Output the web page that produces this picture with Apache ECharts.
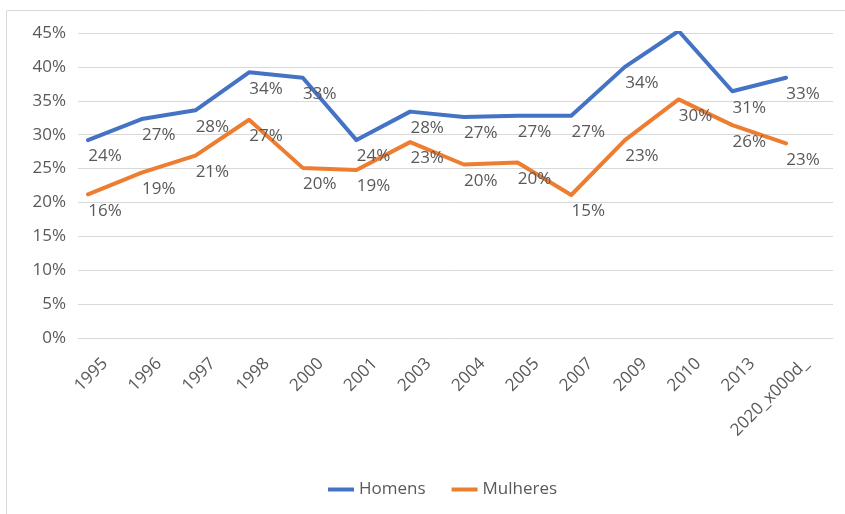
<!DOCTYPE html>
<html>
<head>
<meta charset="utf-8">
<script src="https://cdn.jsdelivr.net/npm/echarts@6/dist/echarts.min.js"></script>
<style>
  html, body { margin: 0; padding: 0; background: #ffffff; }
  #chart { width: 845px; height: 514px; }
</style>
</head>
<body>
<div id="chart"></div>
<script>
// Years on the category axis
const years = ['1995', '1996', '1997', '1998', '2000', '2001', '2003', '2004', '2005', '2007', '2009', '2010', '2013', '2020_x000d_'];

// Line values (fractions)
const homens   = [0.292, 0.323, 0.336, 0.392, 0.384, 0.292, 0.334, 0.326, 0.328, 0.328, 0.400, 0.453, 0.364, 0.384];
const mulheres = [0.212, 0.244, 0.269, 0.322, 0.251, 0.248, 0.289, 0.256, 0.259, 0.211, 0.292, 0.352, 0.314, 0.287];

// Data label texts printed beside each point
const homensLabels   = ['24%', '27%', '28%', '34%', '33%', '24%', '28%', '27%', '27%', '27%', '34%', '40%', '31%', '33%'];
const mulheresLabels = ['16%', '19%', '21%', '27%', '20%', '19%', '23%', '20%', '20%', '15%', '23%', '30%', '26%', '23%'];

// Value axis ticks
const yTicks = [0, 0.05, 0.10, 0.15, 0.20, 0.25, 0.30, 0.35, 0.40, 0.45];

const FONT = '"Open Sans", "Noto Sans", sans-serif';
const TXT = '#595959';
const BLUE = '#4472C4';
const ORANGE = '#ED7D31';

const chart = echarts.init(document.getElementById('chart'), null, { renderer: 'canvas' });

function lineSeries(name, values, labels, color) {
  return {
    name: name,
    type: 'line',
    xAxisIndex: 1,
    yAxisIndex: 1,
    data: values,
    symbol: 'circle',
    symbolSize: 2,
    showSymbol: true,
    itemStyle: { color: color },
    lineStyle: { color: color, width: 4, cap: 'round', join: 'round' },
    label: {
      show: true,
      position: 'bottom',
      distance: 7,
      offset: [17, 0],
      color: TXT,
      fontFamily: FONT,
      fontSize: 17,
      formatter: (p) => labels[p.dataIndex]
    },
    emphasis: { disabled: true },
    animation: false
  };
}

chart.setOption({
  backgroundColor: '#ffffff',
  animation: false,
  textStyle: { fontFamily: FONT },
  graphic: [{
    type: 'rect',
    shape: { x: 6.5, y: 10.5, width: 850, height: 520 },
    style: { fill: 'none', stroke: '#d9d9d9', lineWidth: 1 },
    silent: true
  }],
  legend: {
    left: 323,
    top: 476,
    itemWidth: 26,
    itemHeight: 4,
    itemGap: 26,
    icon: 'rect',
    textStyle: { color: TXT, fontFamily: FONT, fontSize: 17 },
    data: ['Homens', 'Mulheres']
  },
  grid: [
    // frame carrying the gridlines and axis labels
    { left: 78, right: 12, top: 33, bottom: 176 },
    // frame the lines are drawn in
    { left: 88, right: 59, top: 33, bottom: 176 }
  ],
  xAxis: [
    {
      gridIndex: 0,
      type: 'category',
      data: years,
      boundaryGap: true,
      axisLine: { show: true, lineStyle: { color: '#d9d9d9', width: 1 } },
      axisTick: { show: false },
      axisLabel: {
        rotate: 45,
        interval: 0,
        margin: 23,
        color: TXT,
        fontFamily: FONT,
        fontSize: 17
      },
      splitLine: { show: false }
    },
    {
      gridIndex: 1,
      type: 'category',
      data: years,
      boundaryGap: false,
      show: false
    }
  ],
  yAxis: [
    {
      gridIndex: 0,
      type: 'value',
      min: yTicks[0],
      max: yTicks[yTicks.length - 1],
      interval: 0.05,
      axisLine: { show: false },
      axisTick: { show: false },
      axisLabel: {
        margin: 12,
        color: TXT,
        fontFamily: FONT,
        fontSize: 17,
        formatter: (v) => Math.round(v * 100) + '%'
      },
      splitLine: { show: true, lineStyle: { color: '#d9d9d9', width: 1 } }
    },
    {
      gridIndex: 1,
      type: 'value',
      min: yTicks[0],
      max: yTicks[yTicks.length - 1],
      interval: 0.05,
      show: false,
      splitLine: { show: false }
    }
  ],
  series: [
    lineSeries('Homens', homens, homensLabels, BLUE),
    lineSeries('Mulheres', mulheres, mulheresLabels, ORANGE)
  ]
});
</script>
</body>
</html>
